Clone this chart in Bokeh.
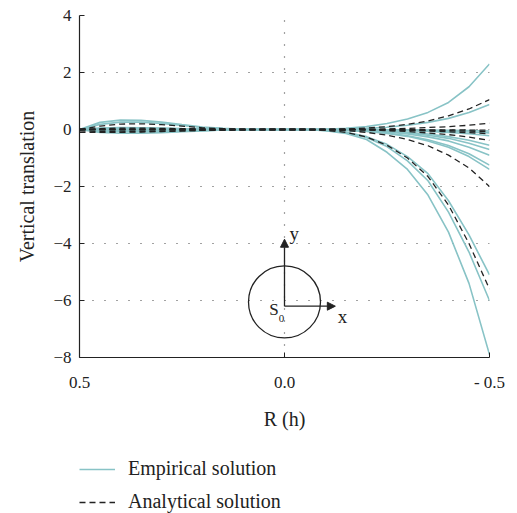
from bokeh.plotting import figure
from bokeh.layouts import column
from bokeh.models import (Range1d, FixedTicker, Legend, LegendItem, Arrow, NormalHead)
from bokeh.core.properties import value
from bokeh.embed import file_html
from bokeh.resources import INLINE

# ---------------- data ----------------
R = [0.5, 0.45, 0.4, 0.35, 0.3, 0.25, 0.2, 0.15, 0.1, 0.05, 0.0,
     -0.05, -0.1, -0.15, -0.2, -0.25, -0.3, -0.35, -0.4, -0.45, -0.5]

empirical = [
    [0, 0.25, 0.33, 0.32, 0.26, 0.17, 0.09, 0.04, 0.01, 0, 0, 0, 0.01, 0.04, 0.1, 0.21, 0.37, 0.6, 0.95, 1.5, 2.3],
    [0, 0.18, 0.26, 0.26, 0.21, 0.14, 0.07, 0.03, 0.01, 0, 0, 0, 0.01, 0.02, 0.04, 0.08, 0.15, 0.25, 0.39, 0.6, 0.88],
    [0, -0.05, -0.08, -0.09, -0.08, -0.06, -0.04, -0.02, -0.01, 0, 0, 0, 0, 0, 0, -0.01, -0.01, -0.02, -0.03, -0.04, -0.05],
    [0, -0.1, -0.13, -0.13, -0.11, -0.08, -0.05, -0.02, -0.01, 0, 0, 0, 0, 0, -0.01, -0.01, -0.02, -0.04, -0.06, -0.09, -0.12],
    [0, 0.05, 0.07, 0.06, 0.05, 0.03, 0.02, 0.01, 0, 0, 0, 0, 0, 0, -0.01, -0.02, -0.04, -0.07, -0.1, -0.15, -0.22],
    [0, 0.02, 0.03, 0.03, 0.02, 0.01, 0.01, 0, 0, 0, 0, 0, 0, -0.01, -0.03, -0.06, -0.1, -0.16, -0.25, -0.38, -0.55],
    [0, -0.02, -0.03, -0.03, -0.02, -0.01, -0.01, 0, 0, 0, 0, 0, 0, -0.01, -0.04, -0.07, -0.12, -0.2, -0.31, -0.48, -0.7],
    [0, 0.01, 0.01, 0.01, 0.01, 0, 0, 0, 0, 0, 0, 0, 0, -0.02, -0.05, -0.09, -0.16, -0.26, -0.4, -0.62, -0.9],
    [0, -0.03, -0.04, -0.04, -0.03, -0.02, -0.01, 0, 0, 0, 0, 0, -0.01, -0.03, -0.06, -0.12, -0.22, -0.36, -0.56, -0.85, -1.25],
    [0, 0.03, 0.04, 0.04, 0.03, 0.02, 0.01, 0, 0, 0, 0, 0, -0.01, -0.03, -0.07, -0.14, -0.24, -0.4, -0.62, -0.95, -1.4],
    [0, -0.01, -0.02, -0.02, -0.01, -0.01, 0, 0, 0, 0, 0, 0, -0.03, -0.1, -0.25, -0.52, -0.95, -1.55, -2.5, -3.7, -5.1],
    [0, 0.01, 0.02, 0.02, 0.01, 0.01, 0, 0, 0, 0, 0, 0, -0.03, -0.11, -0.28, -0.6, -1.1, -1.8, -2.9, -4.3, -6.0],
    [0, -0.04, -0.06, -0.06, -0.05, -0.03, -0.02, -0.01, 0, 0, 0, 0, -0.04, -0.14, -0.35, -0.8, -1.4, -2.3, -3.6, -5.4, -7.9],
]

analytical = [
    [0, 0.12, 0.19, 0.2, 0.17, 0.12, 0.06, 0.03, 0.01, 0, 0, 0, 0, 0.02, 0.05, 0.1, 0.18, 0.3, 0.48, 0.72, 1.05],
    [0, 0.03, 0.05, 0.05, 0.04, 0.03, 0.02, 0.01, 0, 0, 0, 0, 0, 0, 0.01, 0.02, 0.04, 0.07, 0.1, 0.15, 0.22],
    [-0.05, -0.07, -0.08, -0.07, -0.06, -0.05, -0.03, -0.02, -0.01, 0, 0, 0, 0, 0, 0, 0, 0, -0.01, -0.01, -0.02, -0.02],
    [-0.1, -0.1, -0.1, -0.09, -0.07, -0.05, -0.03, -0.02, -0.01, 0, 0, 0, 0, 0, 0, -0.01, -0.02, -0.03, -0.04, -0.06, -0.08],
    [0, 0.01, 0.01, 0.01, 0.01, 0, 0, 0, 0, 0, 0, 0, 0, 0, -0.01, -0.01, -0.03, -0.05, -0.08, -0.11, -0.15],
    [0, -0.01, -0.01, -0.01, -0.01, 0, 0, 0, 0, 0, 0, 0, 0, -0.01, -0.02, -0.04, -0.07, -0.12, -0.18, -0.27, -0.38],
    [0, 0, 0, 0, 0, 0, 0, 0, 0, 0, 0, 0, -0.01, -0.04, -0.1, -0.2, -0.35, -0.57, -0.9, -1.35, -2.0],
    [0, 0, 0, 0, 0, 0, 0, 0, 0, 0, 0, 0, -0.03, -0.1, -0.26, -0.55, -1.0, -1.65, -2.65, -4.0, -5.6],
]

x_ticks = [0.5, 0.0, -0.5]
x_tick_labels = ["0.5", "0.0", "- 0.5"]
y_ticks = [4, 2, 0, -2, -4, -6, -8]
legend_labels = ["Empirical solution", "Analytical solution"]

# inset sketch (circle with local axes)
circle_center = (0.0, -6.05)
axis_origin = (0.0, -6.2)
y_arrow_tip = (0.0, -3.85)
x_arrow_tip = (-0.124, -6.2)

FONT = "Liberation Serif"
TEAL = "#88c3c6"
DARK = "#222222"
DASH = "6 4"

# ---------------- main figure ----------------
p = figure(width=517, height=453, output_backend="svg", toolbar_location=None,
           x_range=Range1d(0.5, -0.5), y_range=Range1d(-8, 4),
           min_border_left=79, min_border_right=28, min_border_top=15,
           min_border_bottom=96)
p.outline_line_color = None
p.background_fill_color = "white"

for ys in empirical:
    p.line(R, ys, line_color=TEAL, line_width=1.6)
for ys in analytical:
    p.line(R, ys, line_color=DARK, line_width=1.3, line_dash=DASH)

for ax in (p.xaxis[0], p.yaxis[0]):
    ax.axis_line_color = DARK
    ax.axis_line_width = 1.2
    ax.major_tick_in = 5
    ax.major_tick_out = 0
    ax.minor_tick_line_color = None
    ax.major_tick_line_color = DARK
    ax.major_label_text_font = FONT
    ax.major_label_text_font_size = "17px"
    ax.major_label_text_color = DARK
    ax.axis_label_text_font = FONT
    ax.axis_label_text_font_size = "20px"
    ax.axis_label_text_font_style = "normal"
    ax.axis_label_text_color = DARK

p.xaxis.ticker = FixedTicker(ticks=x_ticks)
p.xaxis.major_label_overrides = {t: l for t, l in zip(x_ticks, x_tick_labels)}
p.xaxis.axis_label = "R (h)"
p.xaxis.major_label_standoff = 15
p.xaxis.axis_label_standoff = 13

p.yaxis.ticker = FixedTicker(ticks=y_ticks)
p.yaxis.axis_label = "Vertical translation"
p.yaxis.major_label_standoff = 8
p.yaxis.axis_label_standoff = 12

for g in (p.xgrid[0], p.ygrid[0]):
    g.grid_line_color = "#444444"
    g.grid_line_dash = "1 11"
    g.grid_line_width = 1.2

# inset sketch
p.scatter([circle_center[0]], [circle_center[1]], marker="circle", size=72,
          fill_color=None, line_color=DARK, line_width=1.3)
for tip in (y_arrow_tip, x_arrow_tip):
    p.add_layout(Arrow(end=NormalHead(size=8, fill_color=DARK, line_color=DARK),
                       x_start=axis_origin[0], y_start=axis_origin[1],
                       x_end=tip[0], y_end=tip[1],
                       line_color=DARK, line_width=1.3))
p.text([-0.012], [-3.65], text=["y"], text_font=value(FONT), text_font_size="19px",
       text_color=DARK, text_align="left", text_baseline="middle")
p.text([-0.13], [-6.55], text=["x"], text_font=value(FONT), text_font_size="19px",
       text_color=DARK, text_align="left", text_baseline="middle")
p.text([0.014], [-6.3], text=["S"], text_font=value(FONT), text_font_size="17px",
       text_color=DARK, text_align="right", text_baseline="middle")
p.text([0.014], [-6.62], text=["0"], text_font=value(FONT), text_font_size="11px",
       text_color=DARK, text_align="left", text_baseline="middle")

# ---------------- legend strip ----------------
q = figure(width=517, height=60, output_backend="svg", toolbar_location=None,
           x_range=Range1d(0, 1), y_range=Range1d(0, 1),
           min_border=0, x_axis_type=None, y_axis_type=None)
q.outline_line_color = None
q.xgrid.visible = False
q.ygrid.visible = False
# legend-only renderers (their data lie outside the visible range)
le = q.line([2, 3], [2, 3], line_color=TEAL, line_width=1.6)
la = q.line([2, 3], [2, 3], line_color=DARK, line_width=1.3, line_dash=DASH)
legend = Legend(items=[LegendItem(label=legend_labels[0], renderers=[le]),
                       LegendItem(label=legend_labels[1], renderers=[la])],
                location=(0, 0), orientation="vertical",
                glyph_width=36, glyph_height=20, label_height=20, spacing=10,
                padding=0, margin=0, label_standoff=13,
                label_text_font=FONT, label_text_font_size="20px",
                label_text_color=DARK, border_line_color=None,
                background_fill_alpha=0)
q.add_layout(legend, "center")

layout = column(p, q, spacing=0)
open("out.html", "w").write(file_html(layout, INLINE))
